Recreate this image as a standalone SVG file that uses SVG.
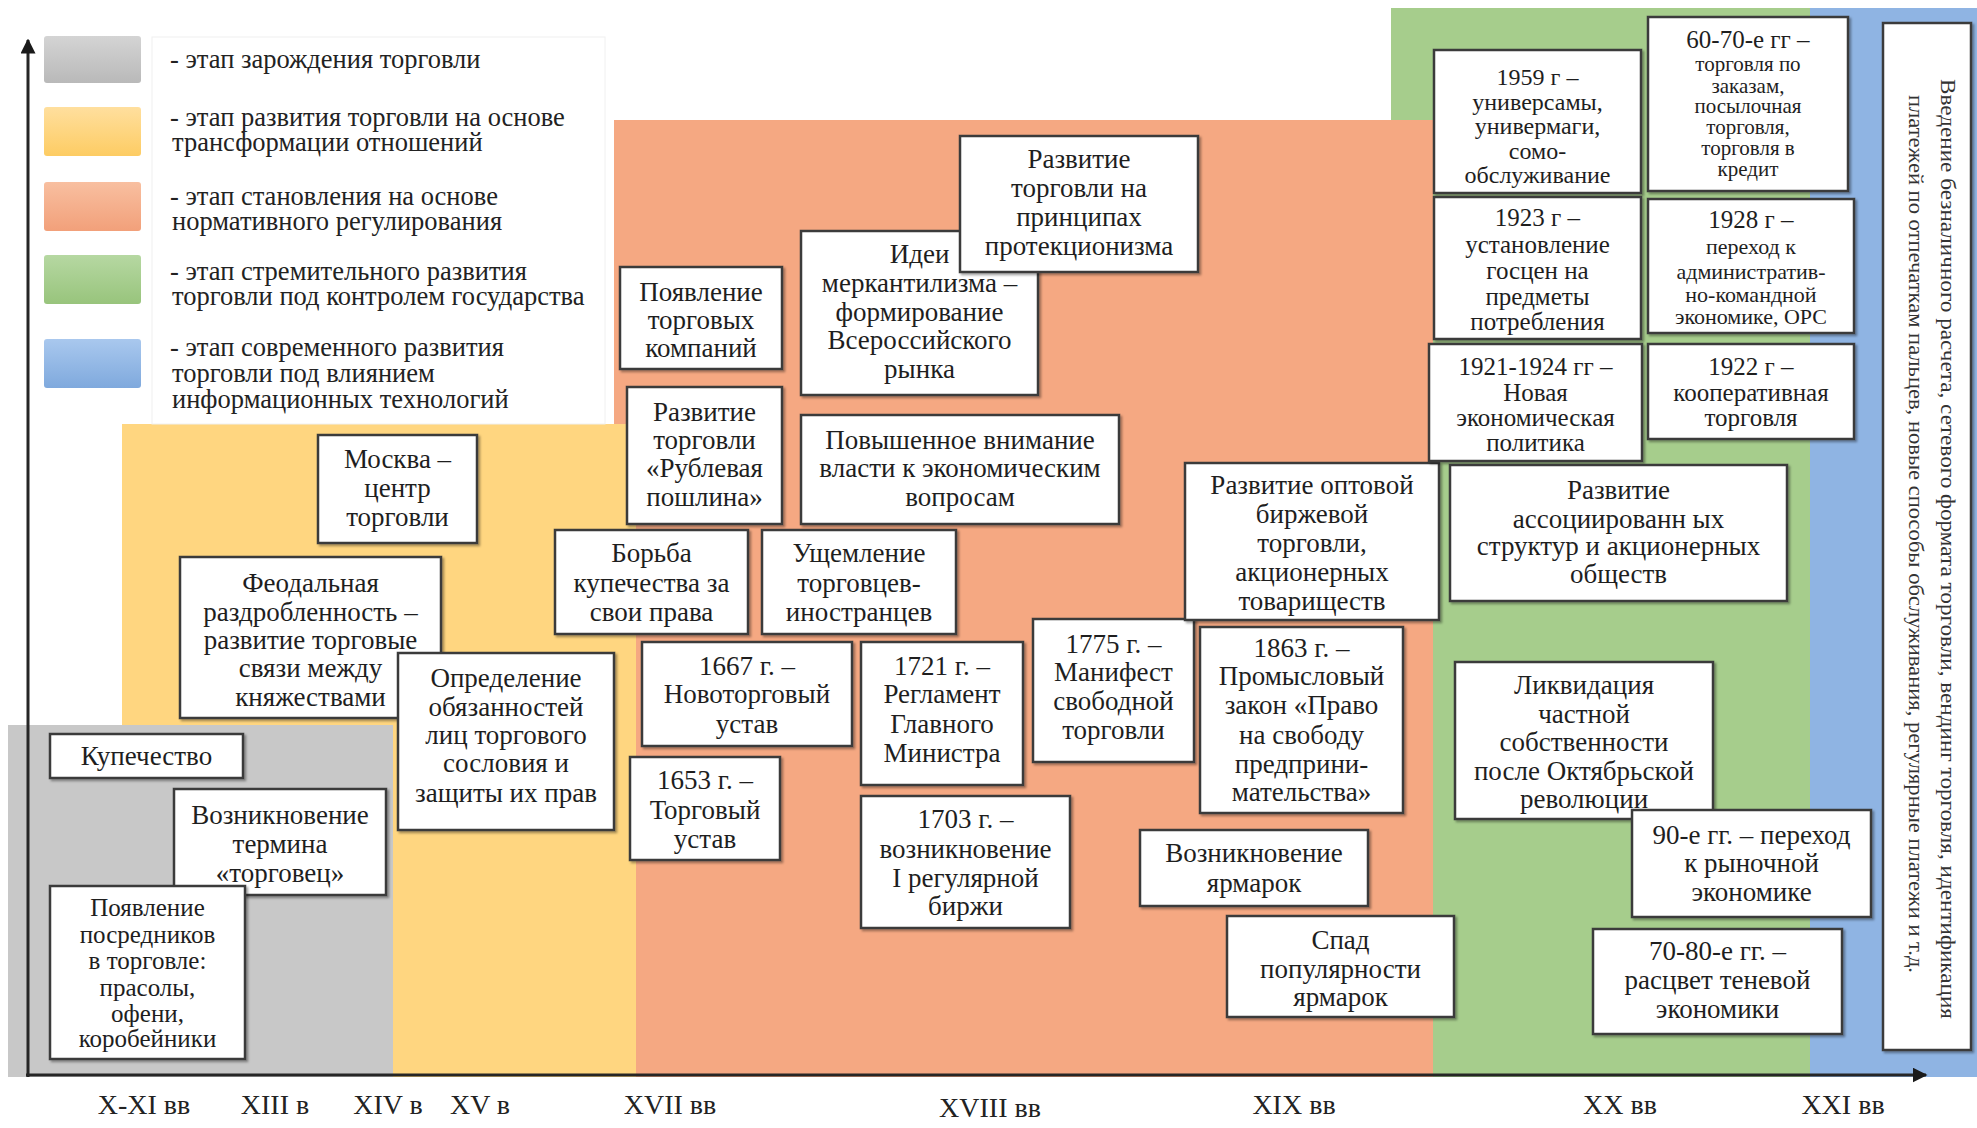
<svg xmlns="http://www.w3.org/2000/svg" width="1977" height="1128" viewBox="0 0 1977 1128">
<defs>
<style>
.box{fill:#fff;stroke:#3a3a3a;stroke-width:2.5;filter:url(#sh)}
.t{font-family:"Liberation Serif","Times New Roman",serif;font-size:27px;fill:#1e1e1e;text-anchor:middle}
.s25{font-size:25px}
.s24{font-size:24px}
.s22{font-size:22px}
.s21{font-size:21px}
.s26{font-size:26px}
.lg{font-family:"Liberation Serif","Times New Roman",serif;font-size:26.5px;fill:#222}
.ax{font-family:"Liberation Serif","Times New Roman",serif;font-size:28px;fill:#222;text-anchor:middle}
.vt{font-family:"Liberation Serif","Times New Roman",serif;font-size:22px;fill:#333;text-anchor:middle}
.axis{stroke:#262626;stroke-width:3;fill:none}
</style>
<filter id="sh" x="-10%" y="-10%" width="130%" height="130%">
<feDropShadow dx="2" dy="2" stdDeviation="1.2" flood-color="#000" flood-opacity="0.35"/>
</filter>
<marker id="arr" viewBox="0 0 10 10" refX="9" refY="5" markerWidth="5" markerHeight="5" orient="auto" markerUnits="strokeWidth">
<path d="M0,0 L10,5 L0,10 z" fill="#1a1a1a"/>
</marker>
<linearGradient id="gGray" x1="0" y1="0" x2="0" y2="1"><stop offset="0" stop-color="#d4d4d4"/><stop offset="1" stop-color="#b9b9b9"/></linearGradient>
<linearGradient id="gYel" x1="0" y1="0" x2="0" y2="1"><stop offset="0" stop-color="#ffdf9e"/><stop offset="1" stop-color="#fdcc63"/></linearGradient>
<linearGradient id="gSal" x1="0" y1="0" x2="0" y2="1"><stop offset="0" stop-color="#f8bfa0"/><stop offset="1" stop-color="#f2a07a"/></linearGradient>
<linearGradient id="gGrn" x1="0" y1="0" x2="0" y2="1"><stop offset="0" stop-color="#b6d8a2"/><stop offset="1" stop-color="#98c47c"/></linearGradient>
<linearGradient id="gBlu" x1="0" y1="0" x2="0" y2="1"><stop offset="0" stop-color="#a9c8ee"/><stop offset="1" stop-color="#7fa9dd"/></linearGradient>
</defs>
<rect width="1977" height="1128" fill="#fff"/>

<g id="stages">
<rect x="1391" y="8" width="419" height="1069" fill="#a6cd8c"/>
<rect x="1810" y="8" width="167" height="1069" fill="#8fb4e3"/>
<rect x="614" y="120" width="819" height="957" fill="#f5a882"/>
<rect x="122" y="424" width="514" height="653" fill="#ffd680"/>
<rect x="8" y="725" width="385" height="352" fill="#c8c8c8"/>
</g>

<g id="legend">
<rect x="152" y="37" width="453" height="387" fill="#fff" stroke="#f0f0f0" stroke-width="1"/>
<rect x="44" y="36" width="97" height="47" rx="3" fill="url(#gGray)"/>
<rect x="44" y="107" width="97" height="49" rx="3" fill="url(#gYel)"/>
<rect x="44" y="182" width="97" height="49" rx="3" fill="url(#gSal)"/>
<rect x="44" y="255" width="97" height="49" rx="3" fill="url(#gGrn)"/>
<rect x="44" y="339" width="97" height="49" rx="3" fill="url(#gBlu)"/>
<text class="lg" x="170" y="68">- этап зарождения торговли</text>
<text class="lg"><tspan x="170" y="126">- этап развития торговли на основе</tspan><tspan x="172" y="151">трансформации отношений</tspan></text>
<text class="lg"><tspan x="170" y="205">- этап становления на основе</tspan><tspan x="172" y="230">нормативного регулирования</tspan></text>
<text class="lg"><tspan x="170" y="280">- этап стремительного развития</tspan><tspan x="172" y="305">торговли под контролем государства</tspan></text>
<text class="lg"><tspan x="170" y="356">- этап современного развития</tspan><tspan x="172" y="382">торговли под влиянием</tspan><tspan x="172" y="408">информационных технологий</tspan></text>
</g>

<g id="connectors">
<line class="axis" x1="28" y1="1077" x2="28" y2="40" marker-end="url(#arr)"/>
<line class="axis" x1="26" y1="1075" x2="1926" y2="1075" marker-end="url(#arr)"/>
</g>

<g id="axis-labels">
<text class="ax" x="144" y="1114">X-XI вв</text>
<text class="ax" x="275" y="1114">XIII в</text>
<text class="ax" x="388" y="1114">XIV в</text>
<text class="ax" x="480" y="1114">XV в</text>
<text class="ax" x="670" y="1114">XVII вв</text>
<text class="ax" x="990" y="1117">XVIII вв</text>
<text class="ax" x="1294" y="1114">XIX вв</text>
<text class="ax" x="1620" y="1114">XX вв</text>
<text class="ax" x="1843" y="1114">XXI вв</text>
</g>

<g id="n-kupechestvo"><rect class="box" x="50" y="734" width="193" height="44"/>
<text class="t"><tspan x="146.5" y="765">Купечество</tspan></text></g>

<g id="n-termin"><rect class="box" x="174" y="789" width="212" height="106"/>
<text class="t"><tspan x="280" y="824">Возникновение</tspan><tspan x="280" y="853">термина</tspan><tspan x="280" y="882">«торговец»</tspan></text></g>

<g id="n-posredniki"><rect class="box" x="50" y="886" width="195" height="173"/>
<text class="t s25"><tspan x="147.5" y="916">Появление</tspan><tspan x="147.5" y="943">посредников</tspan><tspan x="147.5" y="969">в торговле:</tspan><tspan x="147.5" y="996">прасолы,</tspan><tspan x="147.5" y="1022">офени,</tspan><tspan x="147.5" y="1047">коробейники</tspan></text></g>

<g id="n-feodal"><rect class="box" x="180" y="557" width="261" height="161"/>
<text class="t"><tspan x="310.5" y="592">Феодальная</tspan><tspan x="310.5" y="621">раздробленность –</tspan><tspan x="310.5" y="649">развитие торговые</tspan><tspan x="310.5" y="677">связи между</tspan><tspan x="310.5" y="706">княжествами</tspan></text></g>

<g id="n-moskva"><rect class="box" x="318" y="435" width="159" height="108"/>
<text class="t"><tspan x="397.5" y="468">Москва –</tspan><tspan x="397.5" y="497">центр</tspan><tspan x="397.5" y="526">торговли</tspan></text></g>

<g id="n-opredelenie"><rect class="box" x="398" y="653" width="216" height="177"/>
<text class="t"><tspan x="506" y="687">Определение</tspan><tspan x="506" y="716">обязанностей</tspan><tspan x="506" y="744">лиц торгового</tspan><tspan x="506" y="772">сословия и</tspan><tspan x="506" y="802">защиты их прав</tspan></text></g>

<g id="n-kompanii"><rect class="box" x="620" y="267" width="162" height="102"/>
<text class="t"><tspan x="701" y="301">Появление</tspan><tspan x="701" y="329">торговых</tspan><tspan x="701" y="357">компаний</tspan></text></g>

<g id="n-rublevaya"><rect class="box" x="627" y="387" width="155" height="137"/>
<text class="t"><tspan x="704.5" y="421">Развитие</tspan><tspan x="704.5" y="449">торговли</tspan><tspan x="704.5" y="477">«Рублевая</tspan><tspan x="704.5" y="506">пошлина»</tspan></text></g>

<g id="n-merkantilizm"><rect class="box" x="801" y="231" width="237" height="164"/>
<text class="t"><tspan x="919.5" y="263">Идеи</tspan><tspan x="919.5" y="292">меркантилизма –</tspan><tspan x="919.5" y="321">формирование</tspan><tspan x="919.5" y="349">Всероссийского</tspan><tspan x="919.5" y="378">рынка</tspan></text></g>

<g id="n-protekcionizm"><rect class="box" x="960" y="136" width="238" height="136"/>
<text class="t"><tspan x="1079" y="168">Развитие</tspan><tspan x="1079" y="197">торговли на</tspan><tspan x="1079" y="226">принципах</tspan><tspan x="1079" y="255">протекционизма</tspan></text></g>

<g id="n-vnimanie"><rect class="box" x="801" y="415" width="318" height="109"/>
<text class="t"><tspan x="960" y="449">Повышенное внимание</tspan><tspan x="960" y="477">власти к экономическим</tspan><tspan x="960" y="506">вопросам</tspan></text></g>

<g id="n-borba"><rect class="box" x="555" y="530" width="193" height="104"/>
<text class="t"><tspan x="651.5" y="562">Борьба</tspan><tspan x="651.5" y="592">купечества за</tspan><tspan x="651.5" y="621">свои права</tspan></text></g>

<g id="n-ushchemlenie"><rect class="box" x="762" y="530" width="194" height="104"/>
<text class="t"><tspan x="859" y="562">Ущемление</tspan><tspan x="859" y="592">торговцев-</tspan><tspan x="859" y="621">иностранцев</tspan></text></g>

<g id="n-1667"><rect class="box" x="642" y="642" width="210" height="104"/>
<text class="t"><tspan x="747" y="675">1667 г. –</tspan><tspan x="747" y="703">Новоторговый</tspan><tspan x="747" y="733">устав</tspan></text></g>

<g id="n-1653"><rect class="box" x="630" y="757" width="150" height="103"/>
<text class="t"><tspan x="705" y="789">1653 г. –</tspan><tspan x="705" y="819">Торговый</tspan><tspan x="705" y="848">устав</tspan></text></g>

<g id="n-1721"><rect class="box" x="861" y="642" width="162" height="143"/>
<text class="t"><tspan x="942" y="675">1721 г. –</tspan><tspan x="942" y="703">Регламент</tspan><tspan x="942" y="733">Главного</tspan><tspan x="942" y="762">Министра</tspan></text></g>

<g id="n-1703"><rect class="box" x="861" y="796" width="209" height="132"/>
<text class="t"><tspan x="965.5" y="828">1703 г. –</tspan><tspan x="965.5" y="858">возникновение</tspan><tspan x="965.5" y="887">I регулярной</tspan><tspan x="965.5" y="915">биржи</tspan></text></g>

<g id="n-1775"><rect class="box" x="1033" y="619" width="161" height="143"/>
<text class="t"><tspan x="1113.5" y="653">1775 г. –</tspan><tspan x="1113.5" y="681">Манифест</tspan><tspan x="1113.5" y="710">свободной</tspan><tspan x="1113.5" y="739">торговли</tspan></text></g>

<g id="n-1863"><rect class="box" x="1200" y="627" width="203" height="186"/>
<text class="t"><tspan x="1301.5" y="657">1863 г. –</tspan><tspan x="1301.5" y="685">Промысловый</tspan><tspan x="1301.5" y="714">закон «Право</tspan><tspan x="1301.5" y="744">на свободу</tspan><tspan x="1301.5" y="773">предприни-</tspan><tspan x="1301.5" y="801">мательства»</tspan></text></g>

<g id="n-optovaya"><rect class="box" x="1185" y="463" width="254" height="157"/>
<text class="t"><tspan x="1312" y="494">Развитие оптовой</tspan><tspan x="1312" y="523">биржевой</tspan><tspan x="1312" y="552">торговли,</tspan><tspan x="1312" y="581">акционерных</tspan><tspan x="1312" y="610">товариществ</tspan></text></g>

<g id="n-yarmarki"><rect class="box" x="1140" y="830" width="228" height="76"/>
<text class="t"><tspan x="1254" y="862">Возникновение</tspan><tspan x="1254" y="892">ярмарок</tspan></text></g>

<g id="n-spad"><rect class="box" x="1227" y="916" width="227" height="101"/>
<text class="t"><tspan x="1340.5" y="949">Спад</tspan><tspan x="1340.5" y="978">популярности</tspan><tspan x="1340.5" y="1006">ярмарок</tspan></text></g>

<g id="n-1959"><rect class="box" x="1434" y="50" width="207" height="143"/>
<text class="t s24"><tspan x="1537.5" y="85">1959 г –</tspan><tspan x="1537.5" y="110">универсамы,</tspan><tspan x="1537.5" y="134">универмаги,</tspan><tspan x="1537.5" y="159">сомо-</tspan><tspan x="1537.5" y="183">обслуживание</tspan></text></g>

<g id="n-6070"><rect class="box" x="1648" y="17" width="200" height="174"/>
<text class="t s21"><tspan x="1748" y="48" class="s25">60-70-е гг –</tspan><tspan x="1748" y="71">торговля по</tspan><tspan x="1748" y="93">заказам,</tspan><tspan x="1748" y="113">посылочная</tspan><tspan x="1748" y="134">торговля,</tspan><tspan x="1748" y="155">торговля в</tspan><tspan x="1748" y="176">кредит</tspan></text></g>

<g id="n-1923"><rect class="box" x="1434" y="197" width="207" height="142"/>
<text class="t s25"><tspan x="1537.5" y="226">1923 г –</tspan><tspan x="1537.5" y="253">установление</tspan><tspan x="1537.5" y="279">госцен на</tspan><tspan x="1537.5" y="305">предметы</tspan><tspan x="1537.5" y="330">потребления</tspan></text></g>

<g id="n-1928"><rect class="box" x="1648" y="199" width="206" height="134"/>
<text class="t s22"><tspan x="1751" y="228" class="s25">1928 г –</tspan><tspan x="1751" y="254">переход к</tspan><tspan x="1751" y="279">административ-</tspan><tspan x="1751" y="302">но-командной</tspan><tspan x="1751" y="324">экономике, ОРС</tspan></text></g>

<g id="n-nep"><rect class="box" x="1429" y="344" width="213" height="117"/>
<text class="t s25"><tspan x="1535.5" y="375">1921-1924 гг –</tspan><tspan x="1535.5" y="401">Новая</tspan><tspan x="1535.5" y="426">экономическая</tspan><tspan x="1535.5" y="451">политика</tspan></text></g>

<g id="n-1922"><rect class="box" x="1648" y="344" width="206" height="95"/>
<text class="t s25"><tspan x="1751" y="375">1922 г –</tspan><tspan x="1751" y="401">кооперативная</tspan><tspan x="1751" y="426">торговля</tspan></text></g>

<g id="n-associirovannye"><rect class="box" x="1450" y="465" width="337" height="136"/>
<text class="t"><tspan x="1618.5" y="499">Развитие</tspan><tspan x="1618.5" y="528">ассоциированн ых</tspan><tspan x="1618.5" y="555">структур и акционерных</tspan><tspan x="1618.5" y="583">обществ</tspan></text></g>

<g id="n-likvidaciya"><rect class="box" x="1455" y="662" width="258" height="157"/>
<text class="t"><tspan x="1584" y="694">Ликвидация</tspan><tspan x="1584" y="723">частной</tspan><tspan x="1584" y="751">собственности</tspan><tspan x="1584" y="780">после Октябрьской</tspan><tspan x="1584" y="808">революции</tspan></text></g>

<g id="n-90"><rect class="box" x="1632" y="810" width="239" height="107"/>
<text class="t"><tspan x="1751.5" y="844">90-е гг. – переход</tspan><tspan x="1751.5" y="872">к рыночной</tspan><tspan x="1751.5" y="901">экономике</tspan></text></g>

<g id="n-7080"><rect class="box" x="1593" y="929" width="249" height="105"/>
<text class="t"><tspan x="1717.5" y="960">70-80-е гг. –</tspan><tspan x="1717.5" y="989">расцвет теневой</tspan><tspan x="1717.5" y="1018">экономики</tspan></text></g>

<g id="n-xxi"><rect class="box" x="1883" y="23" width="88" height="1027"/>
<text class="vt" transform="translate(1941,549) rotate(90)" textLength="940" lengthAdjust="spacingAndGlyphs">Введение безналичного расчета, сетевого формата торговли, вендинг торговля, идентификация</text>
<text class="vt" transform="translate(1909,534) rotate(90)" textLength="878" lengthAdjust="spacingAndGlyphs">платежей по отпечаткам пальцев, новые способы обслуживания, регулярные платежи и т.д.</text>
</g>
</svg>
